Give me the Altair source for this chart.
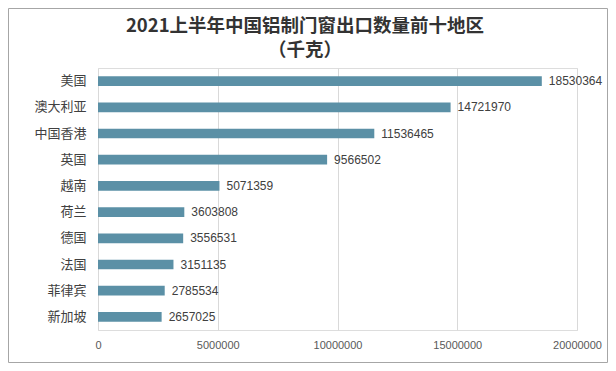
import altair as alt
import pandas as pd

regions = ["美国", "澳大利亚", "中国香港", "英国", "越南", "荷兰", "德国", "法国", "菲律宾", "新加坡"]
values = [18530364, 14721970, 11536465, 9566502, 5071359, 3603808, 3556531, 3151135, 2785534, 2657025]
x_ticks = [0, 5000000, 10000000, 15000000, 20000000]
title_lines = ["2021上半年中国铝制门窗出口数量前十地区", "（千克）"]

df = pd.DataFrame({"region": regions, "value": values})

y_enc = alt.Y("region:N", sort=regions, title=None,
              scale=alt.Scale(paddingInner=0.63, paddingOuter=0.315),
              axis=alt.Axis(ticks=False, domain=False, labelFont="Noto Sans CJK SC",
                            labelFontSize=13, labelColor="#404040", labelPadding=12))
x_enc = alt.X("value:Q", title=None,
              scale=alt.Scale(domain=[0, 20000000], nice=False),
              axis=alt.Axis(values=x_ticks, format="d", ticks=False, domain=False,
                            grid=True, gridColor="#d9d9d9", labelFont="Liberation Sans",
                            labelFontSize=11, labelColor="#595959", labelPadding=9,
                            labelFlush=False))

bars = alt.Chart(df).mark_bar(color="#5b90a6").encode(x=x_enc, y=y_enc)
labels = alt.Chart(df).mark_text(align="left", dx=7, font="Liberation Sans",
                                 fontSize=12, color="#404040").encode(
    x="value:Q", y=alt.Y("region:N", sort=regions), text=alt.Text("value:Q", format="d"))

frame = alt.Chart(alt.Data(values=[{}])).mark_rect(
    filled=False, stroke="#a6a6a6", strokeWidth=1).encode(
    x=alt.value(-89.5), x2=alt.value(509.5), y=alt.value(-59.5), y2=alt.value(294.5))

title_layers = []
for i, line in enumerate(title_lines):
    title_layers.append(
        alt.Chart(alt.Data(values=[{"t": line}])).mark_text(
            font="Noto Sans CJK SC", fontSize=18.5, fontWeight="bold", color="#333333",
            align="center", baseline="middle").encode(
            text="t:N", x=alt.value(207), y=alt.value(-42 + 24 * i)))

chart = alt.layer(bars, labels, frame, *title_layers).properties(
    width=479, height=262,
    autosize="none",
    padding={"left": 90, "top": 60, "right": 31, "bottom": 33},
).configure_view(stroke=None).configure(background="white")

chart.save("out.html", embed_options={"renderer": "svg", "actions": False})
